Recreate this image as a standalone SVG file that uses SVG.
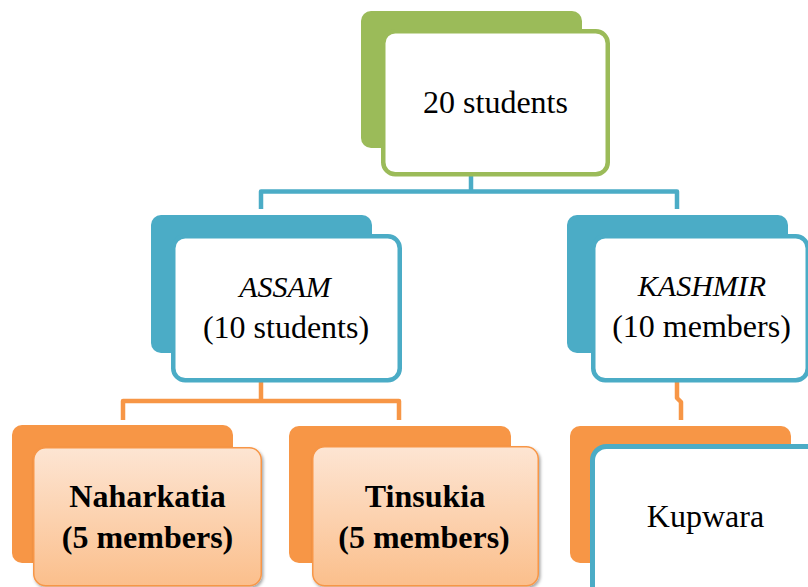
<svg xmlns="http://www.w3.org/2000/svg" width="808" height="587" viewBox="0 0 808 587">
<defs>
<linearGradient id="peach" x1="0" y1="0" x2="0" y2="1">
<stop offset="0" stop-color="#fde5d3"/>
<stop offset="1" stop-color="#fbbf8c"/>
</linearGradient>
<filter id="sh" x="-10%" y="-10%" width="125%" height="125%">
<feDropShadow dx="1.5" dy="2" stdDeviation="1.8" flood-color="#000" flood-opacity="0.35"/>
</filter>
<style>
.t{font-family:"Liberation Serif","Times New Roman",serif;font-size:32px;fill:#000;text-anchor:middle}
.i{font-style:italic;font-size:30px}
.b{font-weight:bold}
.green{fill:#9bbb59}
.blue{fill:#4bacc6}
.orange{fill:#f79646}
.fg{fill:#fff;stroke:#9bbb59;stroke-width:4.5}
.fb{fill:#fff;stroke:#4bacc6;stroke-width:4.5}
.fo{fill:url(#peach);stroke:#f79646;stroke-width:1.5;filter:url(#sh)}
.cb{fill:none;stroke:#4bacc6;stroke-width:4.5;stroke-linejoin:round}
.co{fill:none;stroke:#f79646;stroke-width:4.5;stroke-linejoin:round}
</style>
</defs>
<g id="connectors">
<path class="cb" d="M471 176 V191.5 M261 209 V191.5 H677 V209"/>
<path class="co" d="M261 382 V401 M123 420 V401 H399 V420"/>
<path class="co" d="M677 382 V398 L681 402 V420"/>
</g>
<g id="node-root">
<rect class="green" x="361" y="11" width="221" height="137" rx="10"/>
<rect class="fg" x="383.25" y="31.25" width="224.5" height="143" rx="12"/>
<text class="t" x="495.5" y="113">20 students</text>
</g>
<g id="node-assam">
<rect class="blue" x="151" y="215" width="221" height="138" rx="10"/>
<rect class="fb" x="173.25" y="236.25" width="226.5" height="144" rx="12"/>
<text class="t i" x="285" y="297">ASSAM</text>
<text class="t" x="286" y="338">(10 students)</text>
</g>
<g id="node-kashmir">
<rect class="blue" x="567" y="215" width="221" height="138" rx="10"/>
<rect class="fb" x="593.25" y="236.25" width="214.5" height="144" rx="12"/>
<text class="t i" x="702" y="296">KASHMIR</text>
<text class="t" x="701.5" y="337">(10 members)</text>
</g>
<g id="node-naharkatia">
<rect class="orange" x="12" y="425" width="221" height="138" rx="10"/>
<rect class="fo" x="33.75" y="447.75" width="227.5" height="138" rx="12"/>
<text class="t b" x="147.5" y="507">Naharkatia</text>
<text class="t b" x="147.5" y="548">(5 members)</text>
</g>
<g id="node-tinsukia">
<rect class="orange" x="289" y="426" width="222" height="137" rx="10"/>
<rect class="fo" x="312.75" y="446.75" width="225.5" height="139" rx="12"/>
<text class="t b" x="425" y="507">Tinsukia</text>
<text class="t b" x="424" y="548">(5 members)</text>
</g>
<g id="node-kupwara">
<rect class="orange" x="570" y="426" width="221" height="137" rx="10"/>
<rect fill="#fff" stroke="#4bacc6" stroke-width="5" x="592.5" y="446.5" width="260" height="170" rx="14"/>
<text class="t" x="705.5" y="527">Kupwara</text>
</g>
</svg>
